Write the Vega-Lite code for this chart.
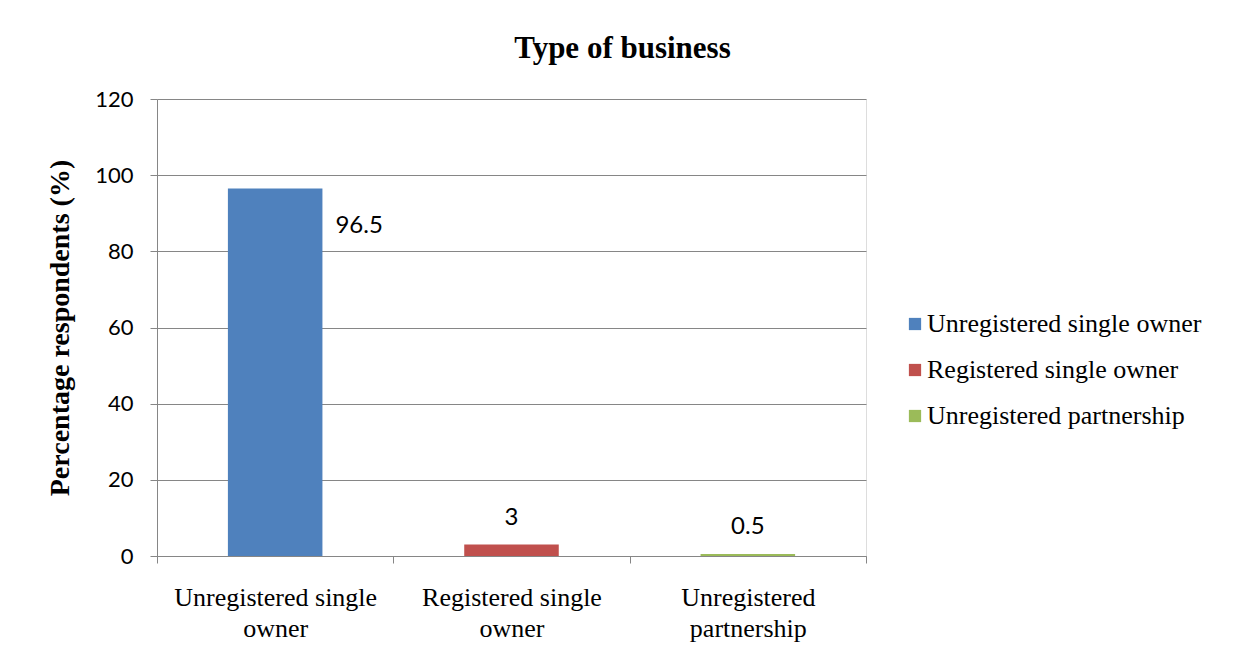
{
  "$schema": "https://vega.github.io/schema/vega-lite/v6.json",
  "autosize": {"type": "none"},
  "padding": {"left": 157, "top": 99, "right": 368, "bottom": 110},
  "width": 709,
  "height": 457,
  "background": "white",
  "title": {
    "text": "Type of business",
    "anchor": "middle",
    "frame": "group",
    "dx": 111,
    "font": "Liberation Serif",
    "fontSize": 31,
    "fontWeight": "bold",
    "color": "black",
    "baseline": "alphabetic",
    "offset": -1
  },
  "data": {
    "values": [
      {"type": "Unregistered single owner", "pct": 96.5},
      {"type": "Registered single owner", "pct": 3},
      {"type": "Unregistered partnership", "pct": 0.5}
    ]
  },
  "encoding": {
    "x": {
      "field": "type",
      "type": "nominal",
      "sort": null,
      "scale": {"paddingInner": 0, "paddingOuter": 0},
      "axis": {
        "title": null,
        "labelAngle": 0,
        "labelFont": "Liberation Serif",
        "labelFontSize": 26,
        "labelColor": "black",
        "labelPadding": 21,
        "labelLineHeight": 31,
        "labelExpr": "datum.label == 'Unregistered single owner' ? ['Unregistered single', 'owner'] : datum.label == 'Registered single owner' ? ['Registered single', 'owner'] : datum.label == 'Unregistered partnership' ? ['Unregistered', 'partnership'] : ''",
        "tickBand": "extent",
        "tickSize": 7,
        "tickColor": "#868686",
        "domainColor": "#868686",
        "labelLimit": 400
      }
    },
    "y": {
      "field": "pct",
      "type": "quantitative",
      "scale": {"domain": [0, 120], "nice": false},
      "axis": {
        "title": "Percentage respondents (%)",
        "titleFont": "Liberation Serif",
        "titleFontSize": 28,
        "titleFontWeight": "bold",
        "titleColor": "black",
        "titleAngle": -90,
        "titleX": -97,
        "titleY": 228.5,
        "titleAlign": "center",
        "titleBaseline": "middle",
        "values": [0, 20, 40, 60, 80, 100, 120],
        "labelFont": "Lato",
        "labelFontSize": 22,
        "labelColor": "black",
        "labelPadding": 17,
        "tickSize": 7,
        "tickColor": "#868686",
        "domainColor": "#868686",
        "gridColor": "#868686",
        "grid": true
      }
    }
  },
  "layer": [
    {
      "mark": {"type": "bar", "width": {"band": 0.4}},
      "encoding": {
        "color": {
          "field": "type",
          "type": "nominal",
          "sort": null,
          "scale": {
            "domain": ["Unregistered single owner", "Registered single owner", "Unregistered partnership"],
            "range": ["#4F81BD", "#C0504D", "#9BBB59"]
          },
          "legend": {
            "title": null,
            "orient": "none",
            "legendX": 745,
            "legendY": 212,
            "symbolType": "square",
            "symbolSize": 150,
            "symbolStrokeWidth": 0,
            "symbolOpacity": 1,
            "labelFont": "Liberation Serif",
            "labelFontSize": 26,
            "labelColor": "black",
            "labelOffset": -1,
            "rowPadding": 20,
            "labelLimit": 400
          }
        }
      }
    },
    {
      "transform": [{"filter": "datum.pct < 50"}],
      "mark": {"type": "text", "baseline": "middle", "dy": -27, "font": "Lato", "fontSize": 24, "color": "black"},
      "encoding": {"text": {"field": "pct", "type": "quantitative"}}
    },
    {
      "transform": [{"filter": "datum.pct >= 50"}],
      "mark": {"type": "text", "baseline": "middle", "dx": 84, "dy": 38, "font": "Lato", "fontSize": 24, "color": "black"},
      "encoding": {"text": {"field": "pct", "type": "quantitative"}}
    }
  ]
}
